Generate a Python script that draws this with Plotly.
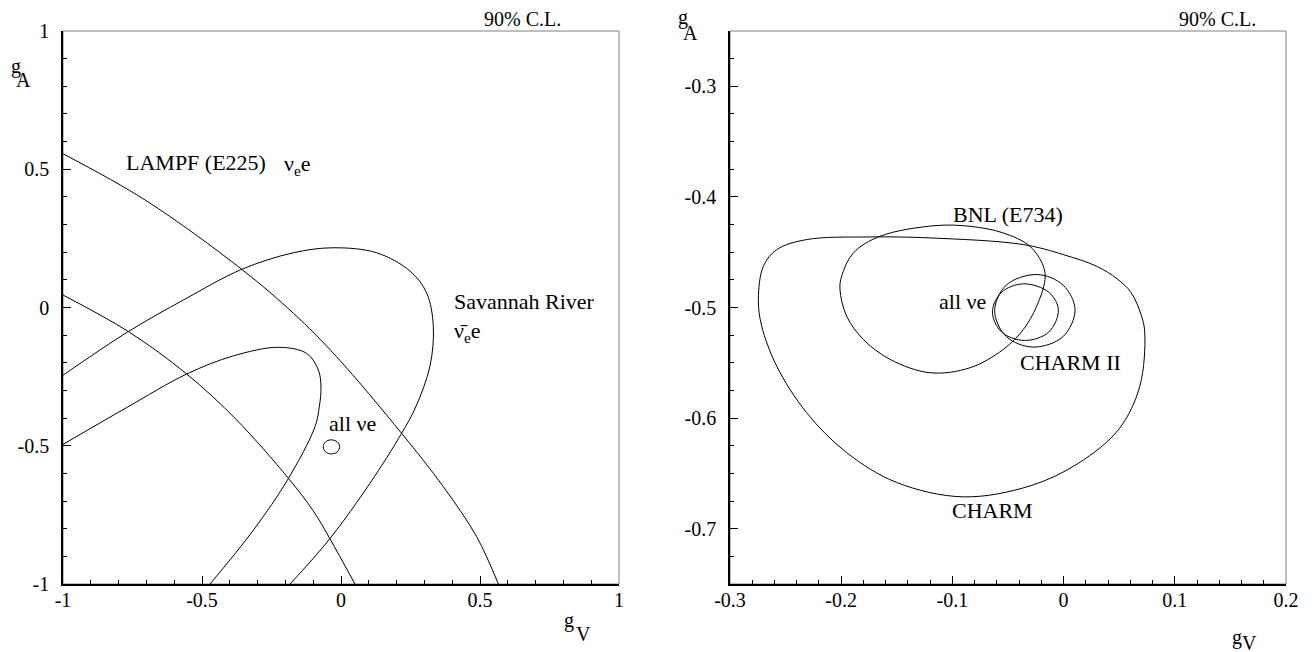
import plotly.graph_objects as go

# ---------------- data ----------------
# Left panel: g_V (x) vs g_A (y)
lampf_outer_x = [-1.0, -0.705, -0.357, -0.171, -0.016, 0.218, 0.368, 0.488, 0.566]
lampf_outer_y = [0.556, 0.389, 0.138, -0.021, -0.178, -0.455, -0.648, -0.829, -1.0]

lampf_inner_x = [-1.0, -0.765, -0.555, -0.375, -0.189, -0.100, -0.040, 0.050]
lampf_inner_y = [0.045, -0.087, -0.2405, -0.407, -0.618, -0.735, -0.836, -1.0]

sav_outer_x = [-1.0, -0.765, -0.567, -0.357, -0.171, -0.028, 0.128, 0.248, 0.308, 0.332, 0.320, 0.270, 0.218, 0.104, -0.040, -0.183]
sav_outer_y = [-0.245, -0.087, 0.027, 0.138, 0.198, 0.216, 0.198, 0.132, 0.053, -0.068, -0.212, -0.357, -0.455, -0.636, -0.836, -1.0]

sav_inner_x = [-1.0, -0.771, -0.555, -0.387, -0.2254, -0.1235, -0.0815, -0.072, -0.078, -0.0935, -0.189, -0.315, -0.471]
sav_inner_y = [-0.495, -0.362, -0.2405, -0.175, -0.144, -0.166, -0.226, -0.287, -0.359, -0.431, -0.618, -0.805, -1.0]

# "all nu e" contour (same in both panels)
allnue_x = [-0.036, -0.0133, -0.0047, -0.0133, -0.035, -0.0557, -0.064, -0.0557, -0.036]
allnue_y = [-0.4786, -0.4862, -0.502, -0.5222, -0.5298, -0.5222, -0.504, -0.4862, -0.4786]

# Right panel
charm_x = [-0.2745, -0.2700, -0.2580, -0.2311, -0.1741, -0.1201, -0.0362, -0.0002, 0.0297, 0.0480, 0.0607,
           0.0700, 0.0730, 0.0686, 0.0498, 0.0130, -0.0302, -0.0902, -0.1501, -0.1951, -0.2311, -0.2580,
           -0.2715, -0.2745]
charm_y = [-0.4928, -0.4627, -0.4477, -0.4386, -0.4362, -0.4371, -0.4431, -0.4522, -0.4627, -0.4740, -0.4865,
           -0.5075, -0.5230, -0.5709, -0.6099, -0.6410, -0.6613, -0.6712, -0.6582, -0.6312, -0.5951, -0.5530,
           -0.5168, -0.4928]

bnl_x = [-0.1157, -0.1651, -0.1891, -0.1996, -0.2011, -0.1951, -0.1801, -0.1561, -0.1201, -0.0842, -0.0542,
         -0.0362, -0.0242, -0.0167, -0.0182, -0.0302, -0.0542, -0.0842, -0.1157]
bnl_y = [-0.4260, -0.4356, -0.4507, -0.4717, -0.4838, -0.5078, -0.5289, -0.5469, -0.5590, -0.5545, -0.5379,
         -0.5199, -0.4988, -0.4747, -0.4627, -0.4447, -0.4326, -0.4266, -0.4260]

charm2_x = [-0.024, -0.0005, 0.0103, -0.0005, -0.027, -0.0515, -0.062, -0.0515, -0.024]
charm2_y = [-0.4702, -0.4797, -0.502, -0.5263, -0.5358, -0.5263, -0.503, -0.4797, -0.4702]

# axis ranges / ticks
left_range_x = [-1, 1]
left_range_y = [-1, 1]
right_range_x = [-0.3, 0.2]
right_range_y = [-0.75, -0.25]
left_ticks = [-1, -0.5, 0, 0.5, 1]
left_ticktext = ["-1", "-0.5", "0", "0.5", "1"]
right_xticks = [-0.3, -0.2, -0.1, 0, 0.1, 0.2]
right_xticktext = ["-0.3", "-0.2", "-0.1", "0", "0.1", "0.2"]
right_yticks = [-0.7, -0.6, -0.5, -0.4, -0.3]
right_yticktext = ["-0.7", "-0.6", "-0.5", "-0.4", "-0.3"]

# ---------------- figure ----------------
FONT = "Liberation Serif, Times New Roman, DejaVu Serif, serif"
W, H = 1313, 652

fig = go.Figure()


def add_curve(x, y, xa, ya):
    fig.add_trace(go.Scatter(x=x, y=y, mode="lines",
                             line=dict(color="black", width=1, shape="spline", smoothing=1.0),
                             xaxis=xa, yaxis=ya, showlegend=False, hoverinfo="skip"))


for cx, cy in [(lampf_outer_x, lampf_outer_y), (lampf_inner_x, lampf_inner_y),
               (sav_outer_x, sav_outer_y), (sav_inner_x, sav_inner_y), (allnue_x, allnue_y)]:
    add_curve(cx, cy, "x", "y")

for cx, cy in [(charm_x, charm_y), (bnl_x, bnl_y), (charm2_x, charm2_y), (allnue_x, allnue_y)]:
    add_curve(cx, cy, "x2", "y2")


def px_x(p):
    return p / W


def px_y(p):
    return 1 - p / H


tickfont = dict(family=FONT, size=20, color="black")


def axis_common(dom, rng, tv, tt, minor_dt, anchor, standoff):
    return dict(domain=dom, range=rng, tickmode="array", tickvals=tv, ticktext=tt,
                ticks="inside", ticklen=8, tickwidth=1, tickcolor="black",
                minor=dict(dtick=minor_dt, tick0=rng[0], ticks="inside", ticklen=4, tickwidth=1, tickcolor="black"),
                showline=True, linecolor="black", linewidth=1.5, mirror=False,
                showgrid=False, zeroline=False, tickfont=tickfont, anchor=anchor,
                ticklabelstandoff=standoff, fixedrange=True, automargin=False)


xd1 = [px_x(63), px_x(619)]
xd2 = [px_x(730), px_x(1286)]
yd = [px_y(584), px_y(31)]

fig.update_layout(
    width=W, height=H, margin=dict(l=0, r=0, t=0, b=0, autoexpand=False),
    paper_bgcolor="white", plot_bgcolor="white",
    font=dict(family=FONT, color="black"),
    xaxis=axis_common(xd1, left_range_x, left_ticks, left_ticktext, 0.1, "y", -3),
    yaxis=axis_common(yd, left_range_y, left_ticks, left_ticktext, 0.1, "x", 8),
    xaxis2=axis_common(xd2, right_range_x, right_xticks, right_xticktext, 0.02, "y2", -3),
    yaxis2=axis_common(yd, right_range_y, right_yticks, right_yticktext, 0.025, "x2", 8),
)

# gray frame (top / right)
for xr, yr in [("x domain", "y domain"), ("x2 domain", "y2 domain")]:
    fig.add_shape(type="rect", xref=xr, yref=yr, x0=0, x1=1, y0=0, y1=1,
                  line=dict(color="#808080", width=1), layer="below")


def ann(text, x, y, xref, yref, xanchor="center", yanchor="middle", size=22):
    fig.add_annotation(text=text, x=x, y=y, xref=xref, yref=yref, xanchor=xanchor, yanchor=yanchor,
                       showarrow=False, font=dict(family=FONT, size=size, color="black"))


# left panel labels
ann("LAMPF (E225)", -0.781, 0.523, "x", "y", xanchor="left")
ann("ν<sub>e</sub>e", -0.214, 0.515, "x", "y", xanchor="left")
ann("Savannah River", 0.400, 0.021, "x", "y", xanchor="left")
ann("ν\u0304<sub>e</sub>e", 0.400, -0.090, "x", "y", xanchor="left")
ann("all νe", -0.0515, -0.421, "x", "y", xanchor="left")
ann("90% C.L.", px_x(522), px_y(19), "paper", "paper", size=20)

# right panel labels
ann("BNL (E734)", -0.050, -0.416, "x2", "y2")
ann("all νe", -0.0677, -0.4943, "x2", "y2", xanchor="right")
ann("CHARM II", -0.0407, -0.5494, "x2", "y2", xanchor="left")
ann("CHARM", -0.064, -0.6838, "x2", "y2")
ann("90% C.L.", px_x(1217), px_y(19), "paper", "paper", size=20)

# axis titles (g_A, g_V)
for gx, gy, lx, ly, letter in [(16, 67, 23, 80, "A"), (569, 620, 583, 634, "V"),
                                (683, 18, 691, 33, "A"), (1237, 637, 1249, 643, "V")]:
    ann("g", px_x(gx), px_y(gy), "paper", "paper", size=20)
    ann(letter, px_x(lx), px_y(ly), "paper", "paper", size=20)

fig.write_html("out.html", config={"displayModeBar": False},
               post_script="document.body.style.margin='0px';document.body.style.padding='0px';")
